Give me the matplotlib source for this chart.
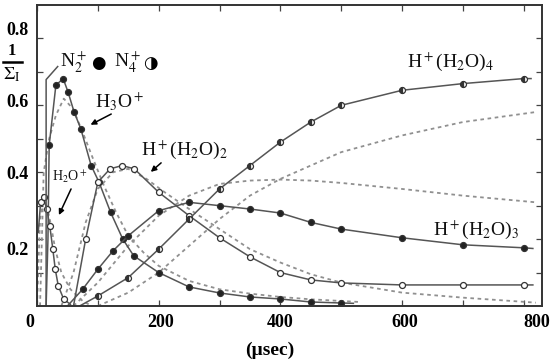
import numpy as np
import matplotlib
matplotlib.use("Agg")
import matplotlib.pyplot as plt
from matplotlib.lines import Line2D
from matplotlib.transforms import ScaledTranslation

plt.rcParams['font.family'] = ['Liberation Serif', 'DejaVu Serif', 'DejaVu Sans']
plt.rcParams['mathtext.fontset'] = 'stix'

# H3O+ (measured, filled) and model (dashed)
h3o_t = [15, 18, 20, 31, 43, 51, 61, 72, 89, 102, 121, 141, 159, 200, 250, 300, 350, 400, 450, 500, 520]
h3o_v = [0.0, 0.2, 0.48, 0.66, 0.68, 0.64, 0.58, 0.53, 0.42, 0.37, 0.28, 0.20, 0.15, 0.10, 0.057, 0.039, 0.027, 0.021, 0.012, 0.009, 0.008]
h3o_mt = [5, 11, 20, 31, 44, 59, 75, 90, 110, 130, 150, 175, 200, 250, 300, 350, 400, 450, 500, 530]
h3o_mv = [0.0, 0.40, 0.50, 0.57, 0.62, 0.59, 0.52, 0.45, 0.36, 0.28, 0.21, 0.16, 0.12, 0.075, 0.05, 0.037, 0.027, 0.02, 0.015, 0.012]

# H2O+
h2o_t = [2, 6, 11, 16, 21, 26, 30, 35, 44, 55]
h2o_v = [0.22, 0.31, 0.325, 0.29, 0.24, 0.17, 0.11, 0.06, 0.02, 0.005]
h2o_mt = [0, 5, 10, 16, 22, 30, 40, 55, 75, 90]
h2o_mv = [0.0, 0.26, 0.31, 0.30, 0.25, 0.17, 0.10, 0.05, 0.015, 0.0]

# H+(H2O)2
w2_t = [60, 80, 100, 120, 140, 160, 200, 250, 300, 350, 400, 450, 500, 600, 700, 800, 815]
w2_v = [0.0, 0.2, 0.37, 0.41, 0.42, 0.41, 0.34, 0.27, 0.204, 0.147, 0.10, 0.078, 0.069, 0.063, 0.063, 0.063, 0.063]
w2_mt = [40, 60, 80, 100, 125, 150, 180, 210, 250, 300, 350, 400, 450, 500, 600, 700, 820]
w2_mv = [0.0, 0.10, 0.25, 0.35, 0.40, 0.41, 0.38, 0.34, 0.29, 0.23, 0.17, 0.13, 0.095, 0.07, 0.04, 0.025, 0.01]

# H+(H2O)3
w3_t = [50, 75, 100, 125, 150, 200, 250, 300, 350, 400, 450, 500, 600, 700, 800, 815]
w3_v = [0.0, 0.05, 0.11, 0.165, 0.21, 0.285, 0.31, 0.30, 0.29, 0.278, 0.25, 0.23, 0.204, 0.183, 0.174, 0.172]
w3_mt = [60, 100, 150, 200, 250, 300, 350, 400, 450, 500, 600, 700, 820]
w3_mv = [0.0, 0.07, 0.18, 0.27, 0.33, 0.365, 0.375, 0.378, 0.375, 0.368, 0.35, 0.33, 0.31]

# H+(H2O)4
w4_t = [70, 100, 150, 200, 250, 300, 350, 400, 450, 500, 600, 700, 800, 812]
w4_v = [0.0, 0.03, 0.085, 0.17, 0.26, 0.35, 0.42, 0.49, 0.55, 0.60, 0.645, 0.665, 0.68, 0.68]
w4_mt = [100, 150, 200, 250, 300, 350, 400, 450, 500, 600, 700, 820]
w4_mv = [0.0, 0.04, 0.10, 0.18, 0.26, 0.33, 0.38, 0.42, 0.46, 0.51, 0.55, 0.58]

# N2+ trace (leaves the frame almost at once)
n2_t = [34, 15, 15]
n2_v = [0.716, 0.677, 0.0]

xtick_vals = [0, 200, 400, 600, 800]
ytick_vals = [0.2, 0.4, 0.6, 0.8]

fig = plt.figure(figsize=(5.5, 3.64), dpi=100)
ax = fig.add_axes([37/550, 58/364, 505/550, 301/364])

line_c = '#555555'
dash_c = '#909090'
dkw = dict(color=dash_c, lw=1.3, ls=(0, (2.0, 2.0)))

ax.plot(h3o_mt, h3o_mv, **dkw)
ax.plot(h2o_mt, h2o_mv, **dkw)
ax.plot(w2_mt, w2_mv, **dkw)
ax.plot(w3_mt, w3_mv, **dkw)
ax.plot(w4_mt, w4_mv, **dkw)

mk = dict(marker='o', ms=4.3, mec='#333333', mew=0.9, color=line_c, lw=1.1)
ax.plot(h3o_t, h3o_v, mfc='#222222', markevery=list(range(2, len(h3o_t) - 1)), **mk)
ax.plot(h2o_t, h2o_v, mfc='white', markevery=list(range(1, len(h2o_t) - 1)), **mk)
ax.plot(w2_t, w2_v, mfc='white', markevery=list(range(1, len(w2_t) - 1)), **mk)
ax.plot(w3_t, w3_v, mfc='#222222', markevery=list(range(1, len(w3_t) - 1)), **mk)
ax.plot(w4_t, w4_v, mfc='#333333', mfcalt='white', fillstyle='left',
        markevery=list(range(1, len(w4_t) - 1)), **mk)
ax.plot(n2_t, n2_v, color=line_c, lw=1.1)

ax.set_xlim(0, 830)
ax.set_ylim(0, 0.9)
ax.set_xticks(xtick_vals)
ax.set_xticks([100, 300, 500, 700], minor=True)
ax.set_yticks(ytick_vals)
ax.set_yticks([0.1, 0.3, 0.5, 0.7], minor=True)
ax.tick_params(which='both', direction='in', top=True, right=True,
               length=4, width=0.9, color='#444444', labelsize=13, pad=6)
for s in ax.spines.values():
    s.set_color('#333333')
    s.set_linewidth(1.4)

# the scanned labels sit a little off their ticks
x_shift = [-7, 2, 0, 3, 13]
y_shift = [-9, 0, 5, 10]
for lab, dx in zip(ax.get_xticklabels(), x_shift):
    lab.set_fontweight('bold')
    lab.set_transform(lab.get_transform() + ScaledTranslation(dx/100, 0, fig.dpi_scale_trans))
for lab, dy in zip(ax.get_yticklabels(), y_shift):
    lab.set_fontweight('bold')
    lab.set_transform(lab.get_transform() + ScaledTranslation(0, dy/100, fig.dpi_scale_trans))

tk = dict(fontsize=14, color='#111111')
ax.text(38, 0.73, r'N$_2^+$', va='center', **tk)
ax.text(100, 0.728, '●', ha='center', va='center', fontsize=12, family=['DejaVu Sans'])
ax.text(126, 0.73, r'N$_4^+$', va='center', **tk)
ax.text(186, 0.728, '◑', ha='center', va='center', fontsize=12, family=['DejaVu Sans'])

akw = dict(arrowstyle='-|>', color='black', lw=1.1, mutation_scale=8, shrinkA=0, shrinkB=0)
ax.text(135, 0.61, r'H$_3$O$^+$', ha='center', va='center', **tk)
ax.annotate('', xy=(88, 0.542), xytext=(122, 0.574), arrowprops=akw)
ax.text(242, 0.467, r'H$^+$(H$_2$O)$_2$', ha='center', va='center', **tk)
ax.annotate('', xy=(187, 0.401), xytext=(204, 0.428), arrowprops=akw)
ax.text(53, 0.385, r'H$_2$O$^+$', ha='center', va='center', fontsize=10, color='#111111')
ax.annotate('', xy=(36, 0.272), xytext=(56, 0.35), arrowprops=akw)
ax.text(680, 0.73, r'H$^+$(H$_2$O)$_4$', ha='center', va='center', **tk)
ax.text(721, 0.228, r'H$^+$(H$_2$O)$_3$', ha='center', va='center', **tk)

fig.text(270/550, 1 - 350/364, '(µsec)', ha='center', va='center', fontsize=14, fontweight='bold')
fig.text(12/550, 1 - 51/364, '1', ha='center', va='center', fontsize=12, fontweight='bold')
fig.add_artist(Line2D([3/550, 22/550], [1 - 62/364, 1 - 62/364], color='black', lw=1.8))
fig.text(12/550, 1 - 75/364, r'$\Sigma_\mathrm{I}$', ha='center', va='center', fontsize=13)

fig.savefig('out.png', dpi=100)
